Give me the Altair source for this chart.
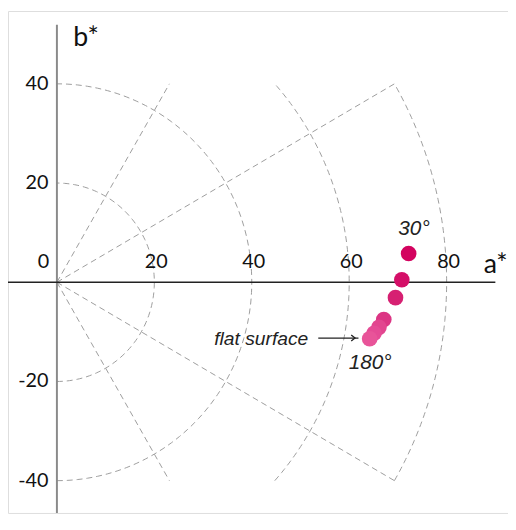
import math
import numpy as np
import pandas as pd
import altair as alt

# ---- data ----
point_a = [72.2, 70.8, 69.5, 67.1, 66.1, 65.1, 64.2]
point_b = [5.8, 0.5, -3.1, -7.5, -9.1, -10.3, -11.4]
point_colors = ["#d3035f", "#d40f68", "#d62072", "#dc3584", "#e2458f", "#e54b95", "#e85499"]

grid_radii = [20, 40, 60, 80]
grid_angles = [60, 30, -30, -60]
grid_limit_b = 40
grid_limit_r = 80

y_tick_values = [40, 20, -20, -40]
x_tick_values = [20, 40, 60, 80]

# ---- scales (pixel-matched) ----
W, H = 506, 508
XMIN = -10.04
XMAX = XMIN + W / 4.93
YMAX = 54.68
YMIN = YMAX - H / 5.02

xs = alt.Scale(domain=[XMIN, XMAX], nice=False, zero=False)
ys = alt.Scale(domain=[YMIN, YMAX], nice=False, zero=False)

# grid arcs
rows = []
for r in grid_radii:
    tmax = 90.0 if r <= grid_limit_b else math.degrees(math.asin(grid_limit_b / r))
    for i, t in enumerate(np.linspace(-tmax, tmax, 121)):
        rows.append({"arc": r, "i": i,
                     "a": r * math.cos(math.radians(t)),
                     "b": r * math.sin(math.radians(t))})
arcs_df = pd.DataFrame(rows)

spokes = []
for ang in grid_angles:
    rend = min(grid_limit_r, grid_limit_b / abs(math.sin(math.radians(ang))))
    spokes.append({"a": 0.0, "b": 0.0,
                   "a2": rend * math.cos(math.radians(ang)),
                   "b2": rend * math.sin(math.radians(ang))})
spokes_df = pd.DataFrame(spokes)

dash = [6, 4]
gcol = "#9c9c9c"

arcs = alt.Chart(arcs_df).mark_line(color=gcol, strokeWidth=1, strokeDash=dash).encode(
    x=alt.X("a:Q", scale=xs, axis=None),
    y=alt.Y("b:Q", scale=ys, axis=None),
    detail="arc:N",
    order="i:Q",
)

spoke_layer = alt.Chart(spokes_df).mark_rule(color=gcol, strokeWidth=1, strokeDash=dash).encode(
    x=alt.X("a:Q", scale=xs, axis=None),
    y=alt.Y("b:Q", scale=ys, axis=None),
    x2="a2:Q",
    y2="b2:Q",
)

# axes lines
vaxis = alt.Chart(pd.DataFrame({"a": [0.0], "b": [51.9], "b2": [YMIN]})).mark_rule(
    color="#8a8a8a", strokeWidth=2).encode(
    x=alt.X("a:Q", scale=xs, axis=None),
    y=alt.Y("b:Q", scale=ys, axis=None),
    y2="b2:Q",
)
haxis = alt.Chart(pd.DataFrame({"a": [XMIN], "a2": [90.0], "b": [0.0]})).mark_rule(
    color="#222222", strokeWidth=1.3).encode(
    x=alt.X("a:Q", scale=xs, axis=None),
    x2="a2:Q",
    y=alt.Y("b:Q", scale=ys, axis=None),
)

pts_df = pd.DataFrame({"a": point_a, "b": point_b, "c": point_colors})
points = alt.Chart(pts_df).mark_circle(size=250, opacity=1).encode(
    x=alt.X("a:Q", scale=xs, axis=None),
    y=alt.Y("b:Q", scale=ys, axis=None),
    color=alt.Color("c:N", scale=None),
)

tick_font = "Lato"
ylab = alt.Chart(pd.DataFrame({"a": [-1.72] * len(y_tick_values), "b": y_tick_values,
                               "t": [str(v) for v in y_tick_values]})).mark_text(
    font=tick_font, fontSize=20, align="right", baseline="middle", color="#111111").encode(
    x=alt.X("a:Q", scale=xs, axis=None), y=alt.Y("b:Q", scale=ys, axis=None), text="t:N")

xlab = alt.Chart(pd.DataFrame({"a": [v + 0.4 for v in x_tick_values], "b": [4.08] * len(x_tick_values),
                               "t": [str(v) for v in x_tick_values]})).mark_text(
    font=tick_font, fontSize=20, align="center", baseline="middle", color="#111111").encode(
    x=alt.X("a:Q", scale=xs, axis=None), y=alt.Y("b:Q", scale=ys, axis=None), text="t:N")

zero_lab = alt.Chart(pd.DataFrame({"a": [-2.74], "b": [4.08], "t": ["0"]})).mark_text(
    font=tick_font, fontSize=20, align="center", baseline="middle", color="#111111").encode(
    x=alt.X("a:Q", scale=xs, axis=None), y=alt.Y("b:Q", scale=ys, axis=None), text="t:N")

axis_titles = alt.Chart(pd.DataFrame({"a": [3.35, 87.6], "b": [47.7, 1.9], "t": ["b*", "a*"]})).mark_text(
    font=tick_font, fontSize=27, align="left", baseline="alphabetic", color="#111111").encode(
    x=alt.X("a:Q", scale=xs, axis=None), y=alt.Y("b:Q", scale=ys, axis=None), text="t:N")

ann_font = "Liberation Sans"
angle_labels = alt.Chart(pd.DataFrame({"a": [73.3, 64.3], "b": [10.66, -16.2], "t": ["30°", "180°"]})).mark_text(
    font=ann_font, fontSize=21, fontStyle="italic", align="center", baseline="middle", color="#222222").encode(
    x=alt.X("a:Q", scale=xs, axis=None), y=alt.Y("b:Q", scale=ys, axis=None), text="t:N")

flat_label = alt.Chart(pd.DataFrame({"a": [51.6], "b": [-11.4], "t": ["flat surface"]})).mark_text(
    font=ann_font, fontSize=19.5, fontStyle="italic", align="right", baseline="middle", color="#222222").encode(
    x=alt.X("a:Q", scale=xs, axis=None), y=alt.Y("b:Q", scale=ys, axis=None), text="t:N")

arrow_line = alt.Chart(pd.DataFrame({"a": [53.65], "a2": [61.9], "b": [-11.25]})).mark_rule(
    color="#222222", strokeWidth=1.3).encode(
    x=alt.X("a:Q", scale=xs, axis=None), x2="a2:Q", y=alt.Y("b:Q", scale=ys, axis=None))

arrow_head = alt.Chart(pd.DataFrame({"a": [61.2], "b": [-11.25]})).mark_point(
    shape="M-1,-0.8L0,0L-1,0.8", filled=False, size=60, color="#222222", strokeWidth=1.3, opacity=1).encode(
    x=alt.X("a:Q", scale=xs, axis=None), y=alt.Y("b:Q", scale=ys, axis=None))

chart = alt.layer(
    arcs, spoke_layer, vaxis, haxis, points, ylab, xlab, zero_lab, axis_titles,
    angle_labels, flat_label, arrow_line, arrow_head,
).properties(
    width=W, height=H, padding=0, autosize=alt.AutoSizeParams(type="none"),
).configure_view(stroke=None).configure(background="white")

chart.save("out.html", embed_options={"renderer": "svg", "actions": False})
